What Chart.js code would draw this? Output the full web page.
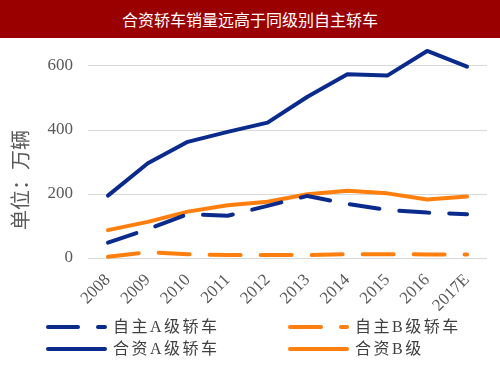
<!DOCTYPE html>
<html>
<head>
<meta charset="utf-8">
<script src="https://cdn.jsdelivr.net/npm/chart.js@4"></script>
<style>
    body { margin: 0; background: #fff; }
    #box { position: relative; width: 500px; height: 375px; }
    #bar { position: absolute; left: 0; top: 0; width: 500px; height: 38px; background: #9B0000; color: #fff;
        font: 16px "Noto Sans CJK SC", sans-serif; line-height: 38px; text-align: center; z-index: 2; }
    canvas { position: absolute; left: 0; top: 0; }
</style>
</head>
<body>
<div id="box">
    <div id="bar">合资轿车销量远高于同级别自主轿车</div>
    <canvas id="lineChart" width="500" height="375"></canvas>
</div>
<script>
const years = ["2008", "2009", "2010", "2011", "2012", "2013", "2014", "2015", "2016", "2017E"];
const ownA = [48, 90, 137, 132, 163, 194, 169, 150, 142, 137];
const ownB = [4, 18, 12, 9, 9, 9, 12, 12, 11, 11];
const jvA = [195, 296, 363, 394, 423, 504, 574, 570, 647, 598];
const jvB = [87, 113, 145, 165, 176, 199, 210, 202, 183, 192];
const yTicks = [0, 200, 400, 600];

const navy = "#0A2B8C";
const orange = "#FF7F0E";
const serif = "'Liberation Serif', 'Noto Sans CJK SC', serif";

function line(label, data, color, dash) {
    return {
        label: label,
        data: data,
        borderColor: color,
        backgroundColor: color,
        borderWidth: 4,
        borderDash: dash,
        borderCapStyle: "round",
        borderJoinStyle: "round",
        tension: 0,
        pointRadius: 0,
        fill: false
    };
}

// y title + legend drawn by hand
const extras = {
    id: "extras",
    afterDraw(chart) {
        const ctx = chart.ctx;
        ctx.save();
        ctx.fillStyle = "#595959";
        ctx.font = "20px 'Noto Sans CJK SC'";
        ctx.translate(20, 180);
        ctx.rotate(-Math.PI / 2);
        ctx.textAlign = "center";
        ctx.textBaseline = "middle";
        ctx.fillText("单位：万辆", 0, 0);
        ctx.restore();

        const spots = [[48, 327], [290, 327], [48, 349], [290, 349]];
        chart.data.datasets.forEach((ds, i) => {
            const [x, y] = spots[i];
            ctx.save();
            ctx.strokeStyle = ds.borderColor;
            ctx.lineWidth = 4;
            ctx.lineCap = "round";
            ctx.setLineDash(ds.borderDash || []);
            ctx.beginPath();
            ctx.moveTo(x, y);
            ctx.lineTo(x + 57, y);
            ctx.stroke();
            ctx.setLineDash([]);
            ctx.fillStyle = "#404040";
            ctx.font = "16px " + serif;
            ctx.letterSpacing = "2.5px";
            ctx.textBaseline = "middle";
            ctx.fillText(ds.label, x + 65, y + 1);
            ctx.restore();
        });
    }
};

const chart = new Chart(document.querySelector("#lineChart"), {
    type: "line",
    data: {
        labels: years,
        datasets: [
            line("自主A级轿车", ownA, navy, [30, 20]),
            line("自主B级轿车", ownB, orange, [31, 20]),
            line("合资A级轿车", jvA, navy, []),
            line("合资B级", jvB, orange, [])
        ]
    },
    options: {
        responsive: false,
        animation: false,
        clip: false,
        layout: { padding: { top: 50, right: 13, left: 0, bottom: 0 } },
        plugins: {
            legend: { display: false },
            tooltip: { enabled: false }
        },
        scales: {
            x: {
                offset: true,
                grid: { display: false },
                border: { display: false },
                afterFit(scale) { scale.height = 117; },
                ticks: {
                    autoSkip: false,
                    maxRotation: 45,
                    minRotation: 45,
                    padding: 4,
                    color: "#595959",
                    font: { family: serif, size: 17 }
                }
            },
            y: {
                min: 0,
                max: 650,
                afterBuildTicks(scale) { scale.ticks = yTicks.map(v => ({ value: v })); },
                afterFit(scale) { scale.width = 88; },
                grid: { color: "#D9D9D9", drawTicks: false },
                border: { display: false },
                ticks: {
                    padding: 15,
                    color: "#595959",
                    font: { family: serif, size: 17 }
                }
            }
        }
    },
    plugins: [extras]
});
</script>
</body>
</html>
